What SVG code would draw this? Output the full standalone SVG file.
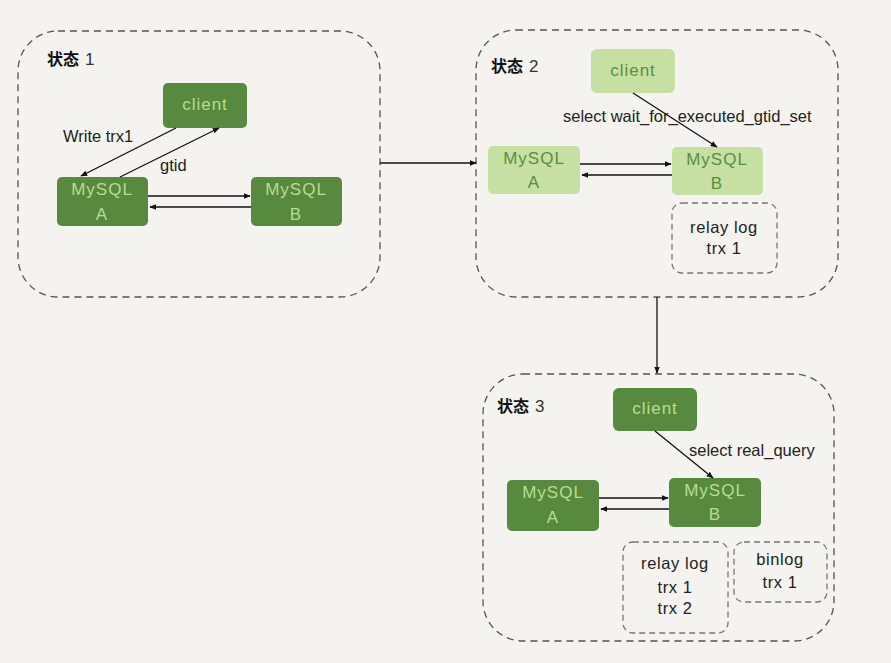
<svg xmlns="http://www.w3.org/2000/svg" width="891" height="663" viewBox="0 0 891 663">
<defs>
<style>
.bg{fill:#f4f3ef}
.panel{fill:none;stroke:#555;stroke-width:1.3;stroke-dasharray:7 5}
.logbox{fill:none;stroke:#777;stroke-width:1.3;stroke-dasharray:6 4}
.dark{fill:#578a3f}
.light{fill:#c6e0a3}
.tdark{fill:#b9dc8f;font-family:"Liberation Sans",Arial,sans-serif;font-size:17px;letter-spacing:1px;text-anchor:middle}
.tlight{fill:#5b8e3f;font-family:"Liberation Sans",Arial,sans-serif;font-size:17px;letter-spacing:1px;text-anchor:middle}
.lbl{fill:#222;font-family:"Liberation Sans",Arial,sans-serif;font-size:16.5px}
.mid{text-anchor:middle;letter-spacing:0.6px}
.title{fill:#111;font-family:"Noto Sans CJK SC","Liberation Sans",sans-serif;font-size:16px;font-weight:bold}
.num{font-family:"Liberation Sans",Arial,sans-serif;font-weight:normal;font-size:17px;fill:#333}
.conn{stroke:#111;stroke-width:1.3;fill:none;marker-end:url(#ah)}
</style>
<marker id="ah" viewBox="0 0 10 10" refX="9" refY="5" markerWidth="7" markerHeight="7" markerUnits="userSpaceOnUse" orient="auto">
<path d="M0,1 L10,5 L0,9 z" fill="#111"/>
</marker>
</defs>
<rect class="bg" x="0" y="0" width="891" height="663"/>

<g id="panel1">
<rect class="panel" x="18" y="31" width="362" height="266" rx="40"/>
<text class="title" x="47" y="65">状态<tspan class="num" dx="6">1</tspan></text>
</g>
<g id="panel2">
<rect class="panel" x="476" y="30" width="362" height="267" rx="40"/>
<text class="title" x="491" y="72">状态<tspan class="num" dx="6">2</tspan></text>
</g>
<g id="panel3">
<rect class="panel" x="483" y="374" width="351" height="267" rx="40"/>
<text class="title" x="497" y="412">状态<tspan class="num" dx="6">3</tspan></text>
</g>

<g id="client1"><rect class="dark" x="163" y="83" width="84" height="45" rx="5"/><text class="tdark" x="205" y="110">client</text></g>
<g id="mysqlA1"><rect class="dark" x="57" y="177" width="91" height="49" rx="5"/><text class="tdark" x="102" y="195">MySQL</text><text class="tdark" x="102" y="220">A</text></g>
<g id="mysqlB1"><rect class="dark" x="251" y="177" width="91" height="49" rx="5"/><text class="tdark" x="296" y="195">MySQL</text><text class="tdark" x="296" y="220">B</text></g>

<g id="client2"><rect class="light" x="591" y="49" width="84" height="44" rx="6"/><text class="tlight" x="633" y="76">client</text></g>
<g id="mysqlA2"><rect class="light" x="488" y="146" width="92" height="48" rx="5"/><text class="tlight" x="534" y="164">MySQL</text><text class="tlight" x="534" y="188">A</text></g>
<g id="mysqlB2"><rect class="light" x="672" y="147" width="91" height="48" rx="5"/><text class="tlight" x="717" y="165">MySQL</text><text class="tlight" x="717" y="189">B</text></g>
<g id="relay2"><rect class="logbox" x="672" y="203" width="105" height="70" rx="10"/><text class="lbl mid" x="724" y="233">relay log</text><text class="lbl mid" x="724" y="254">trx 1</text></g>

<g id="client3"><rect class="dark" x="613" y="388" width="84" height="43" rx="6"/><text class="tdark" x="655" y="414">client</text></g>
<g id="mysqlA3"><rect class="dark" x="507" y="480" width="92" height="51" rx="5"/><text class="tdark" x="553" y="498">MySQL</text><text class="tdark" x="553" y="523">A</text></g>
<g id="mysqlB3"><rect class="dark" x="669" y="478" width="92" height="49" rx="5"/><text class="tdark" x="715" y="496">MySQL</text><text class="tdark" x="715" y="520">B</text></g>
<g id="relay3"><rect class="logbox" x="623" y="542" width="105" height="91" rx="10"/><text class="lbl mid" x="675" y="569">relay log</text><text class="lbl mid" x="675" y="593">trx 1</text><text class="lbl mid" x="675" y="614">trx 2</text></g>
<g id="binlog3"><rect class="logbox" x="734" y="542" width="93" height="60" rx="10"/><text class="lbl mid" x="780" y="565">binlog</text><text class="lbl mid" x="780" y="588">trx 1</text></g>

<g id="connectors">
<line class="conn" x1="176" y1="128" x2="81" y2="176"/>
<line class="conn" x1="120" y1="177" x2="219" y2="128"/>
<line class="conn" x1="148" y1="196" x2="250" y2="196"/>
<line class="conn" x1="251" y1="207" x2="150" y2="207"/>
<text class="lbl" x="63" y="142">Write trx1</text>
<text class="lbl" x="160" y="171">gtid</text>

<line class="conn" x1="380" y1="163" x2="476" y2="163"/>

<line class="conn" x1="633" y1="93" x2="717" y2="147"/>
<line class="conn" x1="580" y1="164" x2="671" y2="164"/>
<line class="conn" x1="672" y1="175" x2="582" y2="175"/>
<text class="lbl" x="563" y="122">select wait_for_executed_gtid_set</text>

<line class="conn" x1="657" y1="297" x2="657" y2="373"/>

<line class="conn" x1="655" y1="431" x2="713" y2="478"/>
<line class="conn" x1="599" y1="498" x2="668" y2="498"/>
<line class="conn" x1="669" y1="509" x2="601" y2="509"/>
<text class="lbl" x="689" y="456">select real_query</text>
</g>
</svg>
